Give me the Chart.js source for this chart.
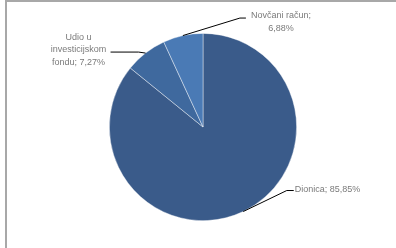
<!DOCTYPE html>
<html>
<head>
<meta charset="utf-8">
<script src="https://cdn.jsdelivr.net/npm/chart.js@4/dist/chart.umd.min.js"></script>
<style>
  html, body { margin: 0; padding: 0; background: #ffffff; }
  #wrap { position: relative; width: 396px; height: 248px; }
  #frame { position: absolute; left: 5px; top: 0; right: 0; bottom: 0;
           border-left: 2px solid #a8a8a8; border-top: 2px solid #a8a8a8; }
  canvas { position: absolute; left: 0; top: 0; }
</style>
</head>
<body>
<div id="wrap">
  <div id="frame"></div>
  <canvas id="pie" width="396" height="248"></canvas>
</div>
<script>
// podaci
const categories = ["Dionica", "Udio u investicijskom fondu", "Novčani račun"];
const shares = [85.85, 7.27, 6.88];
const labelLines = [
    ["Dionica; 85,85%"],
    ["Udio u", "investicijskom", "fondu; 7,27%"],
    ["Novčani račun;", "6,88%"]
];
const sliceColors = ["#3a5b8a", "#3f699e", "#4a7ab5"];

// leader linije + oznake (pomaci od ruba kruga)
const leaderPlugin = {
    id: 'leaders',
    afterDatasetsDraw(chart) {
        const ctx = chart.ctx;
        const arcs = chart.getDatasetMeta(0).data;
        // elbow / kraj linije / tekst, relativno na sidro na rubu
        const layout = [
            { elbow: [43.5, -21], end: [50.5, -21], text: [51.5, -22], align: 'left' },
            { elbow: [-7, -1], end: [-35, -1], text: [-67, -16], align: 'center' },
            { elbow: [57, -17.5], end: [63, -17.5], text: [98, -20], align: 'center' }
        ];
        ctx.save();
        ctx.font = '9px "Liberation Sans"';
        ctx.textBaseline = 'middle';
        arcs.forEach((arc, i) => {
            const p = arc.getProps(['x', 'y', 'startAngle', 'endAngle', 'outerRadius']);
            const mid = (p.startAngle + p.endAngle) / 2;
            const ax = p.x + Math.cos(mid) * p.outerRadius;
            const ay = p.y + Math.sin(mid) * p.outerRadius;
            const l = layout[i];
            ctx.strokeStyle = '#000000';
            ctx.lineWidth = 1;
            ctx.beginPath();
            ctx.moveTo(ax, ay);
            ctx.lineTo(ax + l.elbow[0], ay + l.elbow[1]);
            ctx.lineTo(ax + l.end[0], ay + l.end[1]);
            ctx.stroke();

            ctx.fillStyle = '#7a7a7a';
            ctx.textAlign = l.align;
            labelLines[i].forEach((txt, k) => {
                ctx.fillText(txt, ax + l.text[0], ay + l.text[1] + k * 12.5);
            });
        });
        ctx.restore();
    }
};

new Chart(document.getElementById('pie'), {
    type: 'pie',
    data: {
        labels: categories,
        datasets: [{
            data: shares,
            backgroundColor: sliceColors,
            borderColor: 'rgba(255,255,255,0.55)',
            borderWidth: 0.75
        }]
    },
    options: {
        responsive: false,
        animation: false,
        layout: { padding: { left: 10, right: 0, top: 33, bottom: 27 } },
        plugins: {
            legend: { display: false },
            tooltip: { enabled: false }
        }
    },
    plugins: [leaderPlugin]
});
</script>
</body>
</html>
